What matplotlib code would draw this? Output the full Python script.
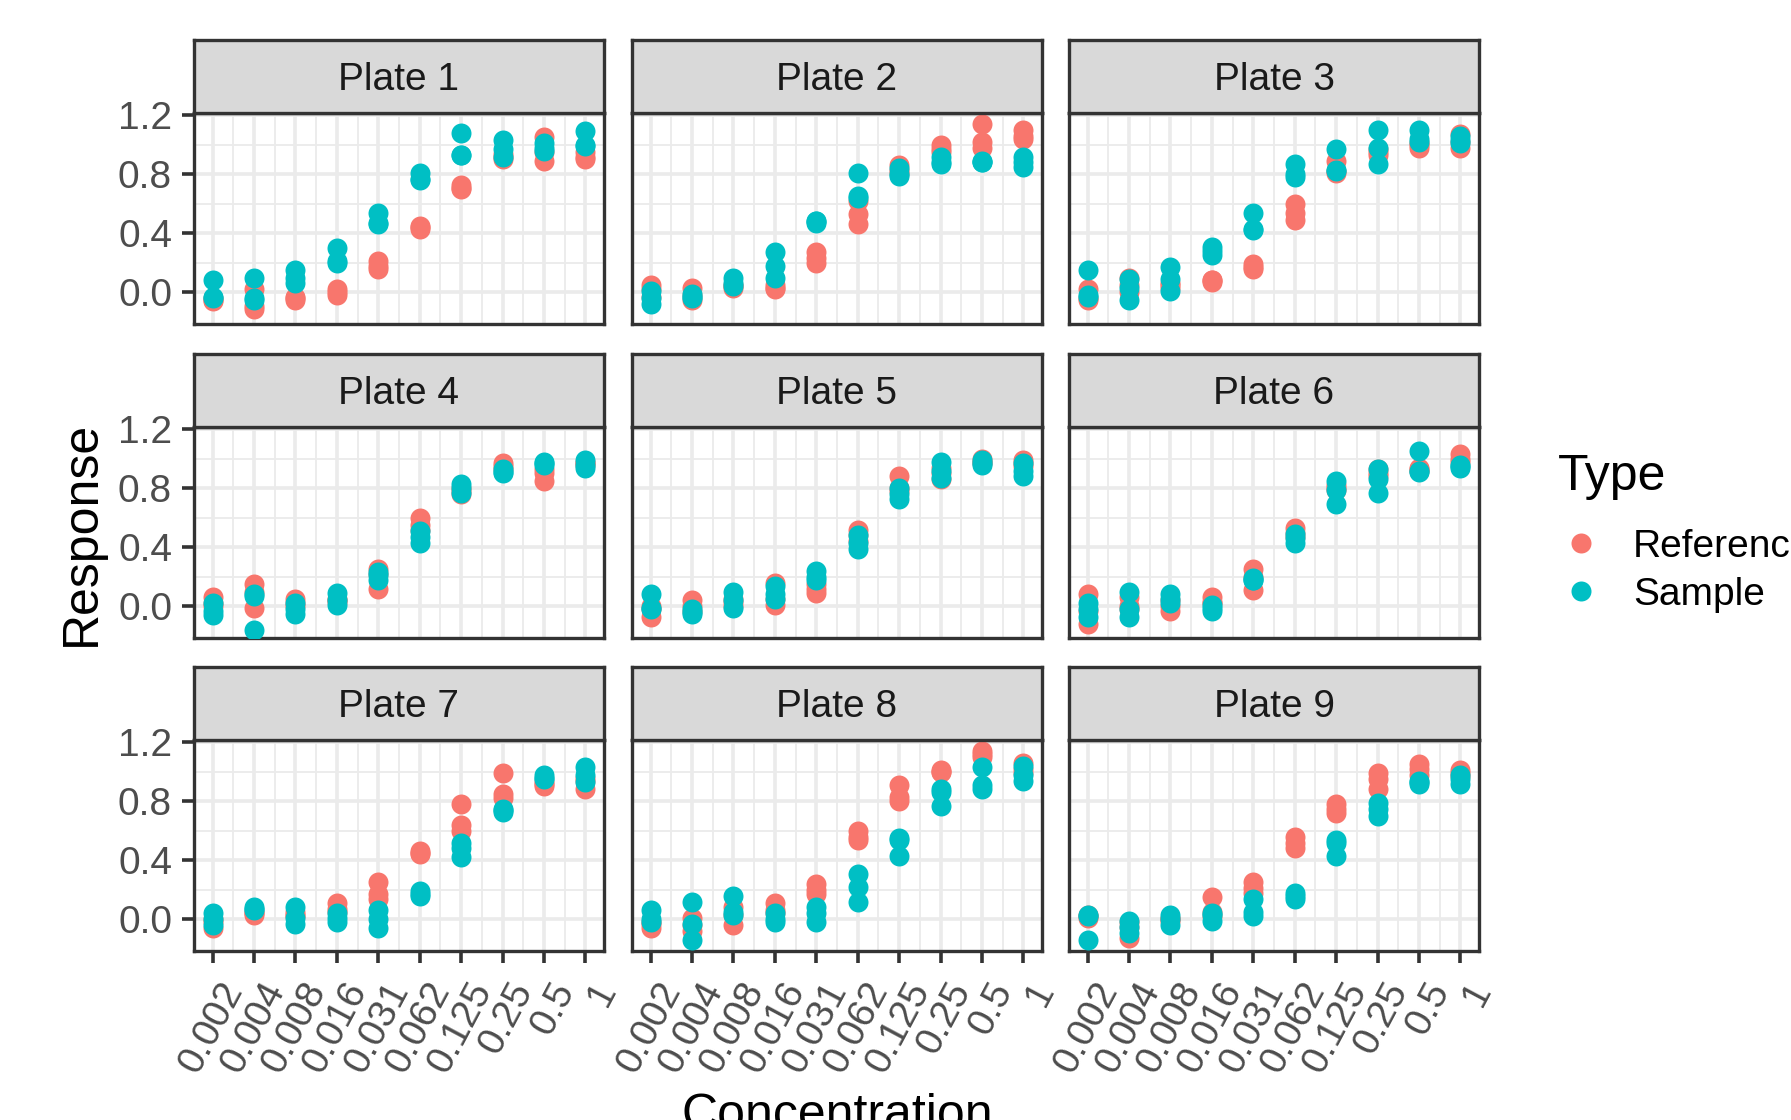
import numpy as np
import matplotlib.pyplot as plt
import matplotlib.transforms as mtransforms
from matplotlib.lines import Line2D

plt.rcParams['font.family'] = ['Liberation Sans', 'DejaVu Sans']

# x categories (equally spaced)
concentrations = ["0.002", "0.004", "0.008", "0.016", "0.031",
                  "0.062", "0.125", "0.25", "0.5", "1"]
plate_names = ["Plate 1", "Plate 2", "Plate 3", "Plate 4", "Plate 5",
               "Plate 6", "Plate 7", "Plate 8", "Plate 9"]
types = ["Reference", "Sample"]
type_colors = ["#F8766D", "#00BFC4"]

# responses, one row per concentration, three replicates each
ref1 = [[-0.06, -0.04, -0.05], [0.02, -0.09, -0.11], [-0.03, -0.05, -0.04], [0.02, 0.00, -0.02],
        [0.21, 0.18, 0.16], [0.45, 0.43, 0.44], [0.73, 0.71, 0.70], [0.92, 0.90, 0.94],
        [1.05, 0.89, 0.95], [0.92, 0.90, 0.95]]
smp1 = [[0.08, -0.03, -0.04], [0.10, -0.04, -0.05], [0.15, 0.10, 0.06], [0.30, 0.21, 0.20],
        [0.54, 0.47, 0.46], [0.81, 0.77, 0.76], [1.08, 0.93, 0.93], [1.03, 0.97, 0.92],
        [1.01, 0.96, 0.98], [1.09, 1.00, 0.99]]
ref2 = [[0.05, 0.02, -0.03], [0.03, -0.05, -0.02], [0.03, 0.05, 0.04], [0.02, 0.05, 0.03],
        [0.27, 0.23, 0.20], [0.62, 0.53, 0.46], [0.86, 0.83, 0.81], [1.00, 0.97, 0.95],
        [1.14, 1.02, 0.98], [1.10, 1.06, 1.04]]
smp2 = [[0.01, -0.08, -0.04], [-0.01, -0.04, -0.03], [0.10, 0.06, 0.04], [0.27, 0.18, 0.10],
        [0.48, 0.47, 0.48], [0.81, 0.65, 0.64], [0.84, 0.80, 0.79], [0.92, 0.88, 0.87],
        [0.88, 0.88, 0.89], [0.92, 0.88, 0.85]]
ref3 = [[0.02, -0.04, -0.05], [0.10, 0.05, 0.00], [0.05, 0.03, 0.06], [0.08, 0.07, 0.08],
        [0.19, 0.17, 0.16], [0.60, 0.54, 0.49], [0.89, 0.82, 0.81], [0.93, 0.95, 0.97],
        [0.98, 1.00, 1.01], [1.07, 0.98, 1.02]]
smp3 = [[0.15, -0.02, -0.03], [0.09, 0.03, -0.05], [0.17, 0.09, 0.01], [0.31, 0.28, 0.25],
        [0.54, 0.43, 0.42], [0.87, 0.80, 0.78], [0.97, 0.83, 0.82], [1.10, 0.98, 0.87],
        [1.10, 1.04, 1.02], [1.06, 1.03, 1.01]]
ref4 = [[0.06, 0.02, 0.00], [0.15, 0.10, -0.01], [0.05, 0.02, 0.00], [0.05, 0.04, 0.03],
        [0.25, 0.22, 0.12], [0.60, 0.55, 0.52], [0.80, 0.78, 0.76], [0.97, 0.95, 0.93],
        [0.90, 0.85, 0.93], [0.96, 0.97, 0.98]]
smp4 = [[0.02, -0.03, -0.06], [0.08, 0.07, -0.16], [0.02, -0.02, -0.05], [0.09, 0.04, 0.01],
        [0.23, 0.21, 0.18], [0.51, 0.47, 0.43], [0.83, 0.80, 0.77], [0.93, 0.91, 0.90],
        [0.98, 0.97, 0.96], [0.99, 0.96, 0.94]]
ref5 = [[-0.07, -0.02, 0.00], [0.04, 0.00, -0.03], [0.03, 0.05, 0.00], [0.16, 0.05, 0.01],
        [0.09, 0.15, 0.12], [0.52, 0.48, 0.44], [0.88, 0.80, 0.78], [0.86, 0.90, 0.94],
        [1.00, 0.97, 0.98], [0.99, 0.97, 0.95]]
smp5 = [[0.08, -0.02, -0.01], [-0.02, -0.05, -0.04], [0.10, 0.04, -0.01], [0.14, 0.08, 0.05],
        [0.24, 0.20, 0.18], [0.48, 0.43, 0.39], [0.80, 0.76, 0.73], [0.98, 0.92, 0.87],
        [0.99, 0.96, 0.97], [0.97, 0.92, 0.88]]
ref6 = [[0.08, -0.03, -0.12], [0.06, 0.00, -0.02], [0.04, 0.00, -0.03], [0.06, 0.03, 0.02],
        [0.25, 0.20, 0.11], [0.53, 0.50, 0.47], [0.79, 0.80, 0.82], [0.93, 0.90, 0.88],
        [0.93, 0.92, 0.94], [1.03, 1.00, 0.98]]
smp6 = [[0.02, -0.02, -0.07], [0.10, -0.02, -0.07], [0.08, 0.05, 0.02], [0.01, -0.01, -0.03],
        [0.18, 0.18, 0.19], [0.49, 0.46, 0.43], [0.85, 0.79, 0.69], [0.93, 0.86, 0.77],
        [1.05, 0.92, 0.91], [0.96, 0.95, 0.94]]
ref7 = [[-0.06, -0.02, 0.00], [0.03, 0.04, 0.05], [0.05, 0.02, 0.03], [0.11, 0.07, 0.05],
        [0.25, 0.17, 0.14], [0.45, 0.46, 0.44], [0.78, 0.64, 0.60], [0.99, 0.85, 0.82],
        [0.90, 0.92, 0.93], [0.88, 0.94, 0.96]]
smp7 = [[0.04, 0.00, -0.04], [0.08, 0.07, 0.06], [0.08, 0.01, -0.03], [0.04, 0.01, -0.02],
        [0.06, 0.00, -0.06], [0.19, 0.17, 0.16], [0.52, 0.48, 0.42], [0.74, 0.75, 0.73],
        [0.98, 0.95, 0.96], [1.03, 0.98, 0.93]]
ref8 = [[-0.06, -0.03, -0.02], [0.01, -0.04, -0.08], [0.08, 0.03, -0.04], [0.11, 0.06, 0.04],
        [0.24, 0.20, 0.17], [0.60, 0.56, 0.54], [0.91, 0.83, 0.80], [1.01, 1.00, 1.00],
        [1.14, 1.10, 1.12], [1.06, 1.02, 0.99]]
smp8 = [[0.06, 0.00, -0.02], [0.12, -0.03, -0.14], [0.16, 0.05, 0.03], [0.04, 0.00, -0.02],
        [0.08, 0.04, -0.02], [0.31, 0.22, 0.12], [0.55, 0.54, 0.43], [0.88, 0.86, 0.77],
        [1.03, 0.91, 0.88], [1.04, 0.98, 0.94]]
ref9 = [[0.02, 0.03, 0.01], [-0.13, -0.05, -0.02], [0.00, 0.01, -0.01], [0.15, 0.05, 0.02],
        [0.25, 0.21, 0.18], [0.56, 0.52, 0.48], [0.78, 0.75, 0.72], [0.99, 0.95, 0.88],
        [1.05, 1.02, 0.98], [1.01, 0.99, 0.97]]
smp9 = [[0.03, 0.02, -0.14], [-0.01, -0.05, -0.09], [0.03, 0.00, -0.04], [0.04, 0.03, -0.01],
        [0.14, 0.05, 0.02], [0.18, 0.16, 0.14], [0.54, 0.52, 0.43], [0.79, 0.75, 0.70],
        [0.94, 0.92, 0.93], [0.98, 0.95, 0.92]]

references = [ref1, ref2, ref3, ref4, ref5, ref6, ref7, ref8, ref9]
samples = [smp1, smp2, smp3, smp4, smp5, smp6, smp7, smp8, smp9]

W, H = 1791, 1120
fig = plt.figure(figsize=(W / 100, H / 100), dpi=100)

col_left = [194, 632, 1069]
row_top = [113, 427, 740]
pw, ph, sh = 410, 211, 73
dark = '#333333'


def box(x, y, w, h):
    # pixel box measured from the top-left corner -> figure fraction
    return [x / W, 1 - (y + h) / H, w / W, h / H]


xpos = np.arange(1, len(concentrations) + 1)
label_shift = mtransforms.ScaledTranslation(0.06, -0.03, fig.dpi_scale_trans)

for i in range(9):
    r, c = divmod(i, 3)
    ax = fig.add_axes(box(col_left[c], row_top[r], pw, ph))
    ax.set_xlim(0.55, 10.45)
    ax.set_ylim(-0.215, 1.215)
    ax.set_axisbelow(True)

    for vals, col in zip([references[i], samples[i]], type_colors):
        vals = np.array(vals)
        xs = np.repeat(xpos, vals.shape[1])
        ax.scatter(xs, vals.ravel(), s=207, color=col, linewidths=0, zorder=3)

    ax.set_xticks(xpos)
    ax.set_xticks(np.arange(1.5, 10, 1), minor=True)
    ax.set_yticks([0.0, 0.4, 0.8, 1.2])
    ax.set_yticks([0.2, 0.6, 1.0], minor=True)
    ax.grid(which='major', color='#EBEBEB', lw=2.6)
    ax.grid(which='minor', color='#EBEBEB', lw=1.3)
    ax.tick_params(which='minor', length=0)
    ax.tick_params(which='major', length=8.3, width=2.6, color=dark,
                   labelsize=28, labelcolor='#4D4D4D', pad=7.5)

    if r == 2:
        ax.set_xticklabels(concentrations, rotation=62, ha='right', va='top',
                           rotation_mode='anchor')
        for lab in ax.get_xticklabels():
            lab.set_transform(lab.get_transform() + label_shift)
    else:
        ax.tick_params(axis='x', length=0, labelbottom=False)
    if c == 0:
        ax.set_yticklabels(["0.0", "0.4", "0.8", "1.2"])
    else:
        ax.tick_params(axis='y', length=0, labelleft=False)

    for sp in ax.spines.values():
        sp.set_color(dark)
        sp.set_linewidth(2.4)

    # facet strip
    sax = fig.add_axes(box(col_left[c], row_top[r] - sh, pw, sh))
    sax.set_facecolor('#D9D9D9')
    sax.set_xticks([])
    sax.set_yticks([])
    for sp in sax.spines.values():
        sp.set_color(dark)
        sp.set_linewidth(2.4)
    sax.text(0.5, 0.31, plate_names[i], ha='center', va='baseline',
             fontsize=28, color='#1A1A1A', transform=sax.transAxes)

# axis titles
fig.text(82 / W, 1 - 533 / H, "Response", rotation=90, ha='center', va='center',
         fontsize=36)
fig.text(837 / W, 1 - 1129 / H, "Concentration", ha='center', va='baseline',
         fontsize=36)

# legend
fig.text(1558 / W, 1 - 490 / H, "Type", ha='left', va='baseline', fontsize=36)
for k, (lab, col) in enumerate(zip(types, type_colors)):
    ym = [543, 591][k]
    yb = [557, 605][k]
    fig.add_artist(Line2D([1581 / W], [1 - ym / H], marker='o', ms=14.4, ls='',
                          color=col, mew=0, transform=fig.transFigure))
    fig.text(1633 / W, 1 - yb / H, lab, ha='left', va='baseline', fontsize=28)

fig.savefig("out.png", dpi=100)
